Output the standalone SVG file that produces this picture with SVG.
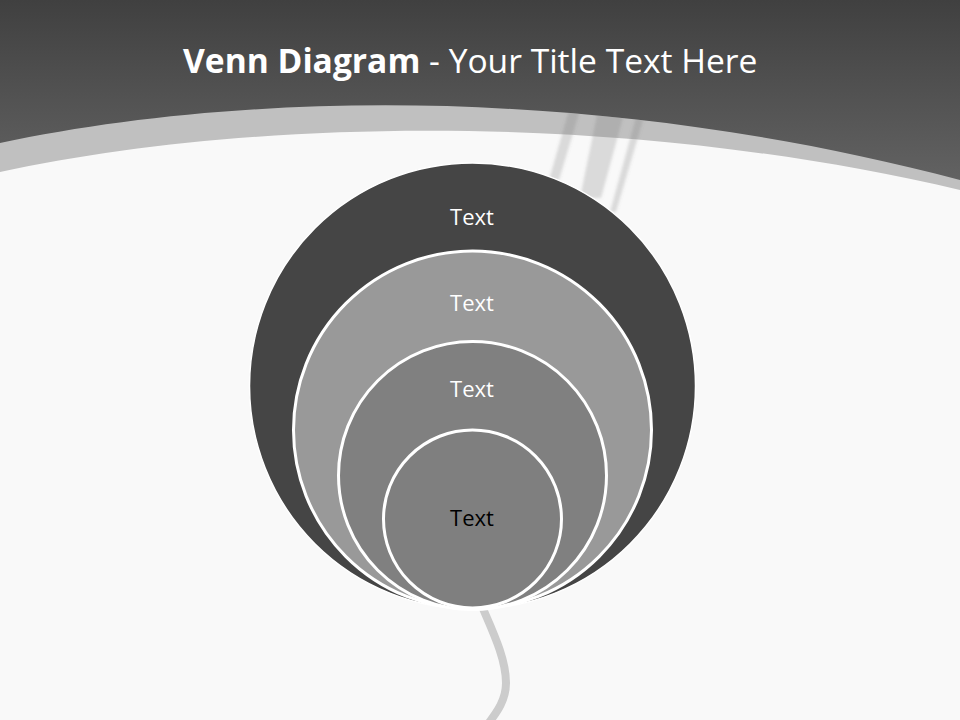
<svg xmlns="http://www.w3.org/2000/svg" width="960" height="720" viewBox="0 0 960 720">
  <defs>
    <linearGradient id="hdr" x1="0" y1="0" x2="0" y2="1">
      <stop offset="0" stop-color="#404040"/>
      <stop offset="1" stop-color="#626262"/>
    </linearGradient>
    <filter id="soft" x="-50%" y="-20%" width="200%" height="140%">
      <feGaussianBlur stdDeviation="1.8"/>
    </filter>
    <clipPath id="bandClip">
      <path d="M0,143 C250,90 600,85 960,180 L960,720 L0,720 Z"/>
    </clipPath>
  </defs>
  <style>
    .ring { stroke: #ffffff; stroke-width: 3; }
    .lbl { font-family: "Open Sans", "Liberation Sans", sans-serif; font-size: 22px; text-anchor: middle; fill: #ffffff; }
    .title { font-family: "Open Sans", "Liberation Sans", sans-serif; font-size: 33.6px; fill: #ffffff; }
    .streak { fill: #7a7a7a; opacity: 0.25; }
  </style>

  <!-- background -->
  <rect x="0" y="0" width="960" height="720" fill="#f9f9f9"/>

  <!-- header -->
  <g id="header">
    <path d="M0,0 L960,0 L960,190 C620,110 250,118 0,172 Z" fill="#c0c0c0"/>
    <path d="M0,0 L960,0 L960,180 C600,85 250,90 0,143 Z" fill="url(#hdr)"/>
    <text class="title" x="183" y="73"><tspan font-weight="bold">Venn Diagram</tspan> - Your Title Text Here</text>
  </g>

  <!-- light streaks -->
  <g id="streaks" clip-path="url(#bandClip)" filter="url(#soft)">
    <polygon class="streak" points="569,110 580,110 559,180 549,180"/>
    <polygon class="streak" points="598,110 625,110 601,198 580,198"/>
    <polygon class="streak" points="638,110 646,110 616,212 610,212"/>
  </g>

  <!-- connectors -->
  <g id="connectors">
    <path d="M481,604 C492,630 506,658 506,683 C506,700 497,712 488,724" fill="none" stroke="#cccccc" stroke-width="8" stroke-linecap="round"/>
  </g>

  <g id="circle1">
    <circle cx="472.5" cy="386" r="223" fill="#454545" stroke="#ffffff" stroke-width="1.5"/>
    <text class="lbl" x="472" y="225">Text</text>
  </g>
  <g id="circle2">
    <circle class="ring" cx="472.5" cy="430" r="179" fill="#999999"/>
    <text class="lbl" x="472" y="311">Text</text>
  </g>
  <g id="circle3">
    <circle class="ring" cx="472.5" cy="475.5" r="134" fill="#808080"/>
    <text class="lbl" x="472" y="397">Text</text>
  </g>
  <g id="circle4">
    <circle class="ring" cx="472.5" cy="519" r="89" fill="#7f7f7f"/>
    <text class="lbl" x="472" y="526" style="fill:#000000">Text</text>
  </g>
</svg>
